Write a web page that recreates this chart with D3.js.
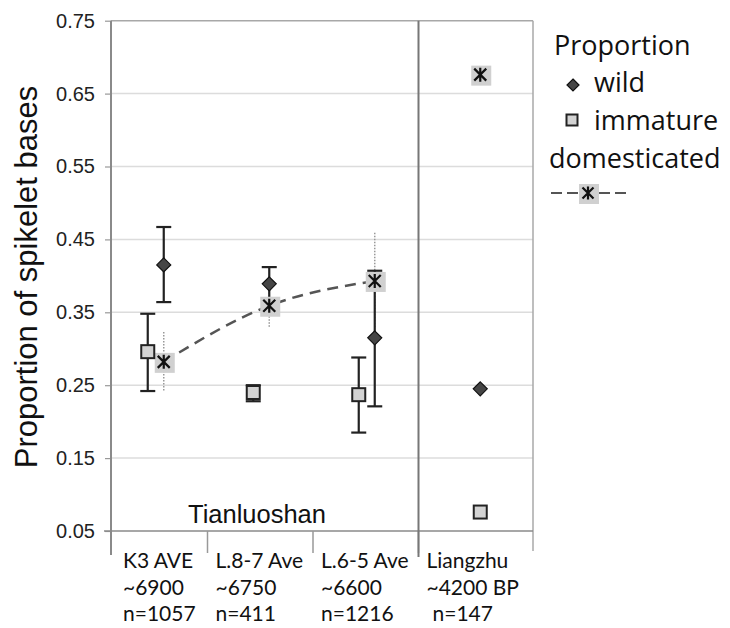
<!DOCTYPE html>
<html><head><meta charset="utf-8">
<script src="https://cdn.jsdelivr.net/npm/d3@7"></script>
<style>body{margin:0;background:#fff}svg{display:block}</style>
</head><body>
<svg id="c" width="730" height="628"></svg>
<script>
// ---- data ----
const categories = ["K3 AVE", "L.8-7 Ave", "L.6-5 Ave", "Liangzhu"];
const dates = ["~6900", "~6750", "~6600", "~4200 BP"];
const counts = ["n=1057", "n=411", "n=1216", "n=147"];
const wild = [0.415, 0.389, 0.315, 0.245];
const wildLow = [0.364, 0.360, 0.221, null];
const wildHigh = [0.467, 0.412, 0.407, null];
const immature = [0.296, 0.240, 0.237, 0.076];
const immLow = [0.242, 0.228, 0.185, null];
const immHigh = [0.348, 0.250, 0.288, null];
const domesticated = [0.282, 0.359, 0.393, 0.676];
const domLow = [0.242, 0.330, 0.330, null];
const domHigh = [0.323, 0.390, 0.459, null];
const yTicks = [0.05, 0.15, 0.25, 0.35, 0.45, 0.55, 0.65, 0.75];
const groupLabel = "Tianluoshan";
const yTitle = "Proportion of spikelet bases";
const legendTitle = "Proportion";
const legendItems = ["wild", "immature", "domesticated"];

// ---- layout ----
const svg = d3.select("#c");
const L = 111, R = 533, T = 20.7, B = 531, axisBottom = 555;
const y = d3.scaleLinear().domain([0.05, 0.75]).range([B, T]);
const x = d3.scaleLinear().domain([-0.5, 3.5]).range([L, R]);
const idx = d3.range(categories.length);
const imOff = i => (i < 3 ? -16 : 0);

// gridlines
svg.append("g").selectAll("line").data(yTicks.filter(v => v > 0.05 && v < 0.75)).join("line")
  .attr("x1", L).attr("x2", R).attr("y1", d => y(d)).attr("y2", d => y(d))
  .attr("stroke", "#dcdcdc").attr("stroke-width", 1.5);
// top border
svg.append("line").attr("x1", L).attr("x2", R).attr("y1", y(0.75)).attr("y2", y(0.75))
  .attr("stroke", "#a8a8a8").attr("stroke-width", 1.5);
// right border
svg.append("line").attr("x1", R).attr("x2", R).attr("y1", T).attr("y2", axisBottom - 4)
  .attr("stroke", "#a8a8a8").attr("stroke-width", 1.5);

// y axis
const yAxis = d3.axisLeft(y).tickValues(yTicks).tickFormat(d3.format(".2f")).tickSize(6).tickPadding(10);
const ga = svg.append("g").attr("transform", `translate(${L},0)`).call(yAxis);
ga.select(".domain").remove();
ga.selectAll(".tick line").attr("stroke", "#999").attr("stroke-width", 1.2);
ga.selectAll(".tick text").attr("font-family", "Liberation Sans, Arial, sans-serif")
  .attr("font-size", 20).attr("fill", "#222");
svg.append("line").attr("x1", L).attr("x2", L).attr("y1", T).attr("y2", axisBottom)
  .attr("stroke", "#8a8a8a").attr("stroke-width", 2);

// x axis line and category separators
svg.append("line").attr("x1", L - 7).attr("x2", R).attr("y1", B).attr("y2", B)
  .attr("stroke", "#8a8a8a").attr("stroke-width", 1.5);
const bounds = idx.slice(1).map(i => x(i - 0.5) - 9);
svg.append("g").selectAll("line").data(bounds).join("line")
  .attr("x1", d => d).attr("x2", d => d).attr("y1", B).attr("y2", axisBottom - 2)
  .attr("stroke", "#999").attr("stroke-width", 1.5);
// Liangzhu separator (full height)
svg.append("line").attr("x1", bounds[2]).attr("x2", bounds[2]).attr("y1", T).attr("y2", axisBottom + 2)
  .attr("stroke", "#777").attr("stroke-width", 2);

// y title
svg.append("text").attr("transform", `translate(37,277) rotate(-90)`)
  .attr("text-anchor", "middle").attr("font-family", "Liberation Sans, Arial, sans-serif")
  .attr("font-size", 31).attr("fill", "#111").text(yTitle);

// group label
svg.append("text").attr("x", 257).attr("y", 523).attr("text-anchor", "middle")
  .attr("font-family", "Liberation Sans, Arial, sans-serif").attr("font-size", 25.5).attr("fill", "#111")
  .text(groupLabel);

// category labels
const catFont = "Lato, Open Sans, sans-serif";
const lx = i => (i === 0 ? L + 12 : bounds[i - 1] + 8);
const cl = svg.append("g").attr("font-family", catFont).attr("fill", "#111");
cl.selectAll("text.c").data(idx).join("text").attr("class", "c")
  .attr("x", lx).attr("y", 568).attr("font-size", 21).text(i => categories[i]);
cl.selectAll("text.d").data(idx).join("text").attr("class", "d")
  .attr("x", lx).attr("y", 595).attr("font-size", 21).text(i => dates[i]);
cl.selectAll("text.n").data(idx).join("text").attr("class", "n")
  .attr("x", i => lx(i) + (i === 3 ? 6 : 0)).attr("y", 621).attr("font-size", 21).text(i => counts[i]);

// dashed trend line (Tianluoshan domesticated)
const line = d3.line().x(i => x(i)).y(i => y(domesticated[i])).curve(d3.curveMonotoneX);
svg.append("path").attr("d", line([0, 1, 2])).attr("fill", "none")
  .attr("stroke", "#555").attr("stroke-width", 2.5).attr("stroke-dasharray", "11,7");

// error bars
function errBars(low, high, dx, dotted) {
  const g = svg.append("g");
  idx.filter(i => low[i] != null).forEach(i => {
    const cx = x(i) + dx(i);
    if (dotted) {
      g.append("line").attr("x1", cx).attr("x2", cx).attr("y1", y(high[i])).attr("y2", y(low[i]))
        .attr("stroke", "#999").attr("stroke-width", 1.5).attr("stroke-dasharray", "1.5,1.5");
    } else {
      g.append("line").attr("x1", cx).attr("x2", cx).attr("y1", y(high[i])).attr("y2", y(low[i]))
        .attr("stroke", "#222").attr("stroke-width", 2.2);
      [high[i], low[i]].forEach(v => g.append("line").attr("x1", cx - 7.5).attr("x2", cx + 7.5)
        .attr("y1", y(v)).attr("y2", y(v)).attr("stroke", "#222").attr("stroke-width", 2.2));
    }
  });
}
errBars(domLow, domHigh, () => 0, true);
errBars(wildLow, wildHigh, () => 0, false);
errBars(immLow, immHigh, imOff, false);

// markers
function diamond(g, cx, cy, s) {
  g.append("path").attr("d", `M${cx},${cy - s}L${cx + s},${cy}L${cx},${cy + s}L${cx - s},${cy}Z`)
    .attr("fill", "#454545").attr("stroke", "#111").attr("stroke-width", 1.2);
}
function square(g, cx, cy, s) {
  g.append("rect").attr("x", cx - s).attr("y", cy - s).attr("width", 2 * s).attr("height", 2 * s)
    .attr("fill", "#d3d3d3").attr("stroke", "#222").attr("stroke-width", 2);
}
function star(g, cx, cy, s) {
  g.append("rect").attr("x", cx - 9).attr("y", cy - 9).attr("width", 20).attr("height", 20).attr("fill", "#d0d0d0");
  g.append("path").attr("d", `M${cx - s},${cy - s}L${cx + s},${cy + s}M${cx + s},${cy - s}L${cx - s},${cy + s}M${cx},${cy - s - 1}L${cx},${cy + s + 1}`)
    .attr("stroke", "#111").attr("stroke-width", 2.2).attr("fill", "none");
}
const mg = svg.append("g");
idx.forEach(i => star(mg, x(i), y(domesticated[i]), 6));
idx.forEach(i => diamond(mg, x(i), y(wild[i]), 7));
idx.forEach(i => square(mg, x(i) + imOff(i), y(immature[i]), 6.5));

// legend
const lf = "Open Sans, Noto Sans, sans-serif";
const lg = svg.append("g").attr("font-family", lf).attr("fill", "#111");
lg.append("text").attr("x", 554).attr("y", 55).attr("font-size", 27).text(legendTitle);
diamond(lg, 573, 85, 6);
lg.append("text").attr("x", 594).attr("y", 92).attr("font-size", 27).text(legendItems[0]);
square(lg, 572, 120, 5.5);
lg.append("text").attr("x", 594).attr("y", 130).attr("font-size", 27).text(legendItems[1]);
lg.append("text").attr("x", 549).attr("y", 168).attr("font-size", 27).text(legendItems[2]);
lg.append("line").attr("x1", 551).attr("x2", 630).attr("y1", 193).attr("y2", 193)
  .attr("stroke", "#555").attr("stroke-width", 1.8).attr("stroke-dasharray", "11,5");
star(lg, 588, 193, 5.5);
</script>
</body></html>
